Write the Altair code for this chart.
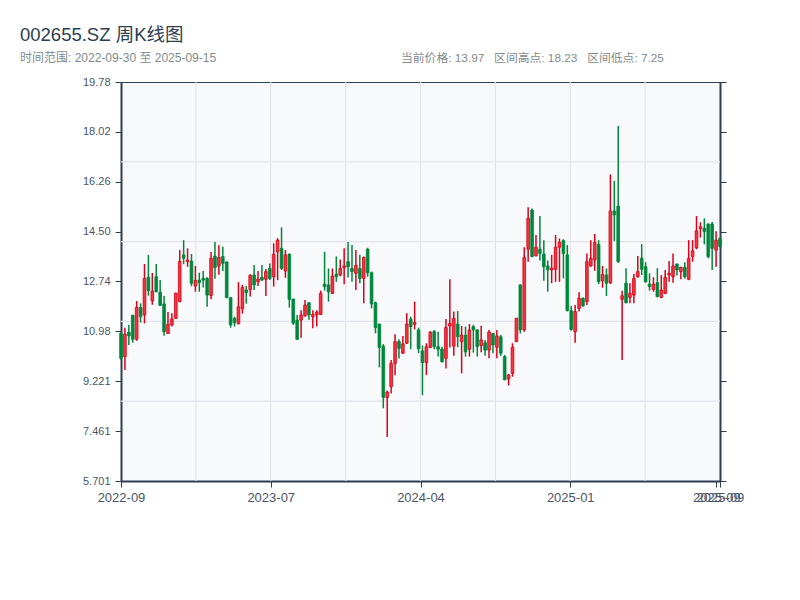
import altair as alt
import pandas as pd

TITLE = "002655.SZ 周K线图"
SUBTITLE = "时间范围: 2022-09-30 至 2025-09-15"
STATS = "当前价格: 13.97   区间高点: 18.23   区间低点: 7.25"

opens = [10.91, 10.09, 10.95, 11.55, 10.70, 11.82, 11.56, 12.89, 12.06, 12.91,
         12.36, 11.95, 10.91, 11.21, 11.44, 12.03, 13.68, 13.44, 13.46, 12.58,
         12.79, 12.85, 12.85, 12.25, 13.64, 13.29, 13.62, 13.43, 12.17, 11.44,
         11.25, 11.79, 12.44, 12.46, 12.97, 12.73, 12.89, 12.82, 13.20, 12.91,
         13.79, 13.91, 13.11, 13.71, 12.12, 11.38, 11.38, 11.53, 11.99, 11.50,
         11.56, 11.58, 12.65, 12.62, 12.32, 13.00, 12.97, 13.23, 13.44, 13.20,
         13.03, 13.20, 12.85, 13.88, 13.05, 11.99, 11.24, 10.46, 8.65, 9.03,
         9.85, 10.62, 10.21, 10.56, 11.41, 11.23, 11.03, 10.29, 9.88, 10.41,
         10.97, 10.44, 10.36, 10.03, 11.17, 10.46, 11.24, 10.62, 10.85, 10.35,
         11.15, 11.03, 10.48, 10.58, 10.32, 10.91, 10.42, 10.79, 10.09, 9.30,
         9.50, 10.62, 12.62, 11.03, 13.88, 15.26, 13.65, 13.88, 13.71, 13.29,
         13.15, 13.17, 13.95, 14.18, 13.68, 11.71, 10.97, 11.79, 12.15, 12.03,
         13.29, 13.50, 14.05, 12.77, 12.97, 12.70, 15.23, 15.40, 12.11, 12.68,
         12.18, 12.26, 12.91, 13.56, 13.26, 12.65, 12.46, 12.70, 12.18, 12.32,
         12.97, 12.91, 13.36, 13.09, 13.24, 12.82, 13.62, 13.93, 14.60, 14.62,
         14.77, 14.77, 13.85, 14.26]
highs = [10.95, 11.11, 11.21, 11.56, 12.05, 11.97, 13.36, 13.68, 13.04, 13.36,
         12.79, 12.23, 11.66, 11.62, 12.34, 13.85, 14.20, 13.91, 13.71, 13.29,
         13.05, 13.11, 12.89, 13.78, 14.13, 14.02, 13.97, 13.45, 12.18, 11.50,
         12.72, 12.62, 12.58, 13.00, 13.32, 13.11, 13.32, 13.18, 13.38, 14.09,
         14.27, 14.65, 13.85, 13.72, 12.13, 11.56, 11.73, 12.09, 12.02, 11.73,
         11.73, 12.42, 13.79, 13.20, 13.20, 13.62, 13.52, 13.91, 14.13, 14.03,
         13.85, 13.68, 13.62, 13.93, 13.09, 12.03, 11.25, 10.53, 8.89, 9.97,
         10.88, 10.70, 10.82, 11.62, 11.50, 12.03, 11.11, 10.48, 10.56, 10.99,
         11.03, 10.97, 10.44, 11.42, 12.82, 11.68, 11.70, 11.17, 11.15, 11.24,
         11.21, 11.06, 11.18, 10.68, 11.03, 10.92, 11.03, 10.85, 10.15, 9.48,
         10.56, 11.46, 12.64, 13.95, 15.36, 15.32, 14.38, 15.05, 14.20, 13.48,
         13.68, 14.38, 14.26, 14.23, 14.03, 11.88, 11.91, 12.36, 12.18, 13.73,
         14.20, 14.42, 14.20, 13.29, 13.20, 16.52, 16.29, 18.23, 12.41, 13.21,
         12.68, 13.01, 13.64, 14.06, 13.42, 13.03, 12.89, 13.21, 12.97, 13.15,
         13.46, 13.73, 13.37, 13.26, 13.42, 14.20, 14.20, 15.05, 14.83, 14.97,
         14.79, 14.84, 14.51, 14.30]
lows = [9.98, 9.62, 10.50, 10.58, 10.65, 11.29, 11.26, 12.24, 11.92, 12.36,
        11.88, 10.83, 10.89, 11.15, 11.43, 12.01, 13.35, 13.26, 12.58, 12.38,
        12.38, 12.53, 11.85, 12.11, 12.84, 12.98, 13.11, 12.15, 11.11, 11.15,
        11.23, 11.61, 11.96, 12.21, 12.44, 12.58, 12.77, 12.23, 12.79, 12.56,
        12.79, 13.15, 12.87, 11.82, 11.21, 10.68, 10.76, 11.50, 11.39, 11.09,
        11.15, 11.56, 12.42, 12.03, 12.30, 12.73, 12.93, 12.64, 12.88, 12.73,
        12.44, 12.68, 11.97, 12.91, 11.79, 10.91, 9.71, 8.27, 7.25, 8.79,
        9.43, 10.02, 10.19, 10.54, 10.35, 11.05, 10.21, 8.73, 9.44, 10.39,
        10.35, 10.09, 9.88, 9.67, 10.41, 10.12, 10.42, 9.50, 10.09, 10.09,
        10.23, 10.09, 10.24, 10.12, 10.03, 10.21, 10.03, 10.12, 9.26, 9.07,
        9.38, 10.60, 10.91, 10.97, 13.44, 13.60, 13.62, 13.48, 12.77, 12.38,
        12.68, 12.73, 12.73, 12.85, 11.69, 11.00, 10.58, 11.68, 11.85, 11.91,
        13.26, 13.12, 12.65, 12.52, 12.23, 12.65, 14.17, 13.40, 9.97, 11.97,
        11.97, 11.97, 12.87, 12.97, 12.70, 12.42, 12.38, 12.18, 12.15, 12.30,
        12.73, 12.70, 12.95, 12.82, 12.85, 12.79, 13.44, 13.88, 14.29, 14.05,
        13.56, 13.15, 13.26, 13.95]
closes = [10.03, 10.88, 10.82, 10.70, 11.83, 11.50, 12.85, 12.42, 12.40, 12.38,
          11.90, 10.97, 11.23, 11.42, 12.33, 13.45, 13.56, 13.50, 12.68, 12.78,
          12.70, 12.79, 12.26, 13.56, 13.23, 13.59, 13.38, 12.17, 11.21, 11.29,
          11.85, 12.53, 12.35, 12.96, 12.62, 12.83, 12.79, 13.09, 12.85, 13.70,
          14.20, 13.20, 13.68, 12.11, 11.27, 10.70, 11.56, 11.91, 11.56, 11.58,
          11.66, 12.32, 12.56, 12.38, 12.93, 12.91, 13.20, 13.29, 13.26, 13.09,
          13.31, 12.85, 13.59, 13.05, 11.95, 11.11, 10.41, 8.65, 8.84, 9.85,
          10.62, 10.38, 10.54, 11.24, 11.15, 11.30, 10.37, 9.88, 10.44, 10.95,
          10.44, 10.35, 9.91, 11.12, 11.26, 11.44, 10.79, 10.85, 10.26, 11.03,
          11.03, 10.44, 10.68, 10.32, 10.96, 10.50, 10.82, 10.21, 9.27, 9.44,
          10.42, 11.44, 11.03, 13.59, 14.97, 13.62, 13.95, 13.73, 13.26, 13.15,
          13.21, 13.95, 14.12, 13.73, 11.71, 11.05, 11.68, 12.15, 11.88, 13.44,
          13.56, 14.12, 12.73, 12.99, 12.68, 15.23, 15.09, 13.44, 12.24, 11.99,
          12.32, 12.85, 13.09, 13.17, 12.73, 12.56, 12.65, 12.21, 12.44, 12.89,
          13.03, 13.29, 13.15, 13.24, 12.91, 13.56, 13.82, 14.53, 14.67, 14.50,
          13.62, 13.91, 14.20, 13.97]

x_tick_labels = ["2022-09", "2023-07", "2024-04", "2025-01", "2025-09", "2025-09"]
y_domain = [5.701, 19.78]

n = len(opens)
df = pd.DataFrame({"i": list(range(n)), "open": opens, "high": highs,
                   "low": lows, "close": closes})
df["up"] = df["close"] >= df["open"]

lo, hi = y_domain
y_ticks = [lo + (hi - lo) * k / 8 for k in range(9)]
y_grid = [lo + (hi - lo) * k / 5 for k in range(1, 5)]
x_grid = [(n - 1) * k / 8 for k in range(1, 8)]
x_tick_pos = [0, (n - 1) / 4, (n - 1) / 2, 3 * (n - 1) / 4, n - 1.9, n - 1]

FONT = "Liberation Sans, Noto Sans CJK SC, sans-serif"
AX = "#2c3e50"
LBL = "#4a5568"
SUB = "#7f8c8d"
RED = "#d9001b"
RED_FILL = "#f0363f"
GREEN = "#00873c"
GRID = "#e1e5ea"
NB = "\u00a0"

xs = alt.Scale(domain=[0, n - 1], nice=False, zero=False, padding=0)
ys = alt.Scale(domain=y_domain, nice=False, zero=False, padding=0)

label_expr = "{}[indexof({}, datum.value)]".format(
    "[" + ",".join("'%s'" % t for t in x_tick_labels) + "]",
    "[" + ",".join(repr(float(v)) for v in x_tick_pos) + "]")

x_axis = alt.Axis(values=x_tick_pos, labelExpr=label_expr, grid=False, title=None,
                  tickSize=6, tickColor=AX, domainColor=AX, domainWidth=2,
                  labelColor=LBL, labelFontSize=13, labelFont=FONT, labelPadding=4,
                  labelFlush=False, labelOverlap=False)
y_left = alt.Axis(orient="left", values=y_ticks, format=".4g", grid=False, title=None,
                  tickSize=6, tickColor=AX, domainColor=AX, domainWidth=2,
                  labelColor=LBL, labelFontSize=11, labelFont=FONT, labelPadding=5,
                  labelFlush=False, labelOverlap=False)
y_right = alt.Axis(orient="right", values=y_ticks, labels=False, grid=False, title=None,
                   tickSize=6, tickColor=AX, domainColor=AX, domainWidth=2)

hgrid = alt.Chart(pd.DataFrame({"v": y_grid})).mark_rule(
    color=GRID, strokeWidth=1.2).encode(
    y=alt.Y("v:Q", scale=ys, axis=None))
vgrid = alt.Chart(pd.DataFrame({"v": x_grid})).mark_rule(
    color=GRID, strokeWidth=1.2).encode(
    x=alt.X("v:Q", scale=xs, axis=x_axis))

wick = alt.Chart(df).mark_rule(strokeWidth=1.5).encode(
    x=alt.X("i:Q", scale=xs, axis=x_axis),
    y=alt.Y("low:Q", scale=ys, axis=y_left),
    y2="high:Q",
    color=alt.condition("datum.up", alt.value(RED), alt.value(GREEN)),
)
body = alt.Chart(df).mark_bar(size=2.7, strokeWidth=0.8).encode(
    x=alt.X("i:Q", scale=xs, axis=x_axis),
    y=alt.Y("open:Q", scale=ys, axis=y_right),
    y2="close:Q",
    fill=alt.condition("datum.up", alt.value(RED_FILL), alt.value(GREEN)),
    stroke=alt.condition("datum.up", alt.value(RED), alt.value(GREEN)),
)

one = pd.DataFrame({"a": [0]})
title = alt.Chart(one).mark_text(align="left", baseline="alphabetic", fontSize=18.5,
                                 color=AX, font=FONT).encode(
    x=alt.value(-101), y=alt.value(-41), text=alt.value(TITLE))
subtitle = alt.Chart(one).mark_text(align="left", baseline="alphabetic", fontSize=12,
                                    color=SUB, font=FONT).encode(
    x=alt.value(-101), y=alt.value(-20), text=alt.value(SUBTITLE))
stats = alt.Chart(one).mark_text(align="left", baseline="alphabetic", fontSize=11.8,
                                 color=SUB, font=FONT).encode(
    x=alt.value(280), y=alt.value(-20), text=alt.value(STATS.replace(" ", NB)))

chart = alt.layer(hgrid, vgrid, wick, body, title, subtitle, stats).resolve_axis(
    y="independent").properties(
    width=599, height=399,
    padding={"left": 113, "top": 74, "right": 70, "bottom": 100},
    autosize=alt.AutoSizeParams(type="none"),
    background="white",
).configure_view(fill="#f8f9fb", stroke=AX, strokeWidth=1)

chart.save("out.html", embed_options={"renderer": "svg", "actions": False})
